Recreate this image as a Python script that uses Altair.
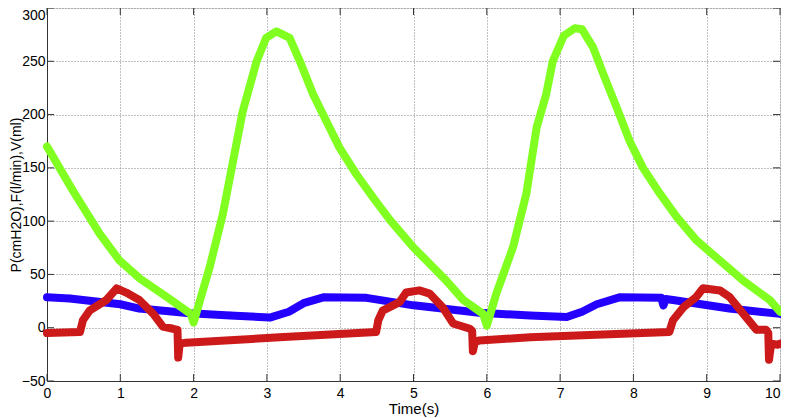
import altair as alt
import pandas as pd

# ---- data ----
x_ticks = [0, 1, 2, 3, 4, 5, 6, 7, 8, 9, 10]
y_ticks = [-50, 0, 50, 100, 150, 200, 250, 300]

# Volume V(ml) - green
g_t = [0, 0.35, 0.72, 0.99, 1.27, 1.63, 1.96, 2.0, 2.22, 2.40, 2.54, 2.67, 2.86, 2.99,
       3.13, 3.31, 3.45, 3.63, 3.81, 3.99, 4.22, 4.45, 4.68, 4.99, 5.22, 5.45, 5.68,
       5.95, 6.0, 6.13, 6.36, 6.54, 6.68, 6.81, 6.90, 7.05, 7.2, 7.3, 7.45, 7.59, 7.77,
       7.95, 8.13, 8.36, 8.59, 8.86, 9.18, 9.50, 9.86, 10.0]
g_v = [170, 129, 88, 63, 46, 29, 13, 5, 57, 107, 157, 203, 250, 272,
       278, 272, 250, 219, 194, 169, 144, 122, 101, 76, 60, 44, 26,
       13, 2, 32, 76, 126, 188, 219, 250, 274, 281, 280, 263, 238, 207,
       175, 150, 126, 104, 82, 63, 44, 26, 15]

# Pressure P(cmH2O) - blue
b_t = [0, 0.31, 1.0, 1.26, 1.95, 2.5, 3.04, 3.3, 3.5, 3.77, 4.36, 5.0, 5.9, 6.59,
       7.09, 7.3, 7.5, 7.81, 8.38, 8.41, 8.44, 8.54, 9.31, 10.0]
b_v = [28.5, 27.5, 22, 18, 13.5, 11.5, 9.5, 15, 23, 28.5, 28, 21, 14, 11.5,
       10, 15, 22, 28.5, 28, 21, 27, 26, 18, 13]

# Flow F(l/min) - red
r_t = [0, 0.45, 0.49, 0.58, 0.81, 0.95, 1.08, 1.26, 1.45, 1.58, 1.72, 1.78, 1.79,
       1.81, 1.9, 3.17, 4.49, 4.52, 4.58, 4.81, 4.90, 5.08, 5.22, 5.40, 5.54, 5.77,
       5.80, 5.81, 5.84, 5.9, 6.59, 8.49, 8.54, 8.68, 8.86, 8.95, 9.18, 9.31, 9.50,
       9.68, 9.81, 9.84, 9.85, 9.88, 9.97, 10.0]
r_v = [-5, -4, 7, 16, 26, 37, 33, 26, 13, 1, -1, -2, -28,
       -15, -14, -9, -4, 7, 16, 24, 33, 35, 32, 19, 4, -1,
       -3, -22, -13, -12, -9, -4, 7, 19, 29, 37, 35, 29, 13,
       -2, -2, -5, -30, -15, -16, -15]

W, H = 733, 373
FONT = "Liberation Sans"

x_scale = alt.Scale(domain=[0, 10], nice=False, zero=False)
y_scale = alt.Scale(domain=[-50, 300], nice=False, zero=False)

x_axis = alt.Axis(values=x_ticks, title="Time(s)", grid=True, gridDash=[1, 2],
                  gridColor="#808080", gridOpacity=1, tickSize=0, labelPadding=5,
                  labelFontSize=14, titleFontSize=15, labelFont=FONT, titleFont=FONT,
                  labelColor="#000", titleColor="#000", titleFontWeight="normal",
                  labelAlign=alt.ExprRef(expr="datum.value == 10 ? 'right' : 'center'"),
                  titlePadding=1, domainColor="#333", labelFlush=False)
y_axis = alt.Axis(values=y_ticks, title="P(cmH2O),F(l/min),V(ml)", grid=True,
                  gridDash=[1, 2], gridColor="#808080", gridOpacity=1, tickSize=0,
                  labelPadding=2, labelFontSize=14, titleFontSize=14, labelFont=FONT,
                  titleFont=FONT, labelColor="#000", titleColor="#000",
                  labelBaseline=alt.ExprRef(expr="datum.value == 300 ? 'top' : 'middle'"),
                  titleFontWeight="normal", titleX=-24, titleY=H / 2,
                  domainColor="#333", labelFlush=False)

X = alt.X("t:Q", scale=x_scale, axis=x_axis)
Y = alt.Y("v:Q", scale=y_scale, axis=y_axis)


def series(t, v, color):
    df = pd.DataFrame({"t": t, "v": v})
    base = alt.Chart(df)
    line = base.mark_line(color=color, strokeWidth=8, strokeJoin="round",
                          strokeCap="round").encode(x=X, y=Y)
    pts = base.mark_point(shape="diamond", filled=True, color=color, size=60,
                          opacity=1).encode(x=X, y=Y)
    return [line, pts]


xt = pd.DataFrame({"t": x_ticks})
yt = pd.DataFrame({"v": y_ticks})
TICK = "#333"
tick_b = alt.Chart(xt).mark_rule(color=TICK).encode(x=X, y=alt.value(H), y2=alt.value(H - 7))
tick_t = alt.Chart(xt).mark_rule(color=TICK).encode(x=X, y=alt.value(0), y2=alt.value(7))
tick_l = alt.Chart(yt).mark_rule(color=TICK).encode(y=Y, x=alt.value(0), x2=alt.value(7))
tick_r = alt.Chart(yt).mark_rule(color=TICK).encode(y=Y, x=alt.value(W - 7), x2=alt.value(W))

layers = [tick_b, tick_t, tick_l, tick_r]
layers += series(b_t, b_v, "#2400ff")
layers += series(g_t, g_v, "#80ff20")
layers += series(r_t, r_v, "#cc1a1a")

chart = alt.layer(*layers).properties(
    width=W, height=H,
    autosize=alt.AutoSizeParams(type="none"),
    padding={"left": 39, "top": 0, "right": 1, "bottom": 37},
).configure_view(stroke="#444", strokeWidth=1).configure(background="white")

chart.save("out.html", embed_options={"renderer": "svg", "actions": False})
